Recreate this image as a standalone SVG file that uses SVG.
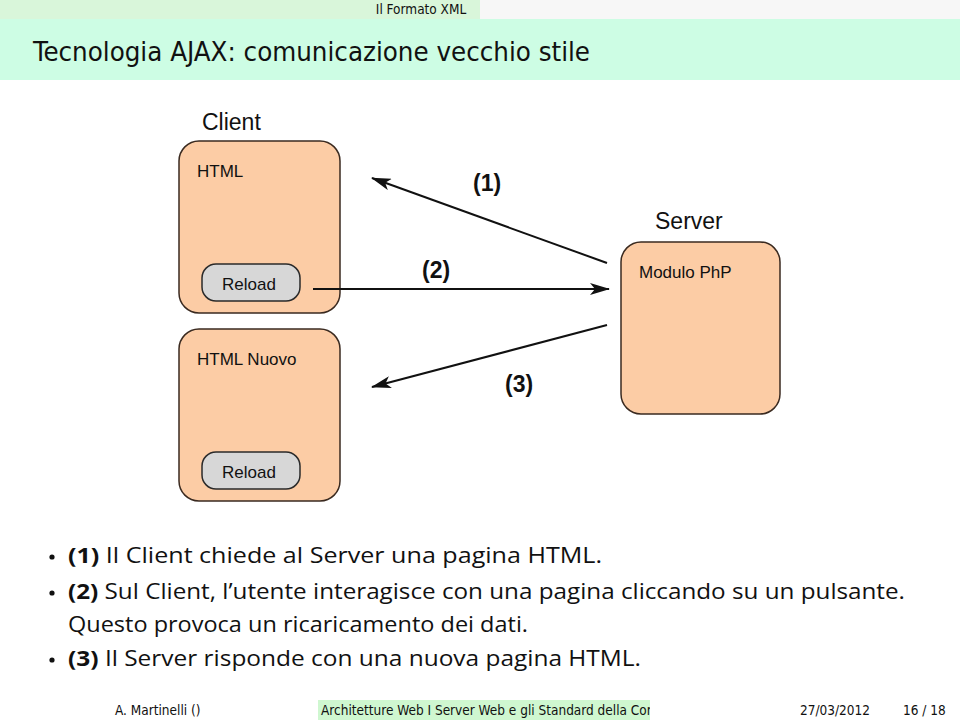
<svg xmlns="http://www.w3.org/2000/svg" width="960" height="720" viewBox="0 0 960 720">
<style>
.box{fill:#fccca5;stroke:#3a2a20;stroke-width:1.5}
.btn{fill:#d7d7d7;stroke:#2a2a2a;stroke-width:1.5}
.lbl{font-family:"Liberation Sans",Arial,sans-serif;fill:#111}
.num{font-family:"Liberation Sans",Arial,sans-serif;font-weight:bold;font-size:23px;fill:#111}
.body{font-family:"Open Sans","DejaVu Sans",sans-serif;font-size:21px;fill:#111}
.foot{font-family:"DejaVu Sans Condensed","DejaVu Sans",sans-serif;font-size:13.5px;fill:#111}
.conn{stroke:#111;stroke-width:2;fill:none;marker-end:url(#ah)}
</style>
<defs>
<marker id="ah" viewBox="0 0 20 12" refX="19" refY="6" markerWidth="20" markerHeight="12" markerUnits="userSpaceOnUse" orient="auto">
<path d="M0,0 L20,6 L0,12 L5,6 Z" fill="#111"/>
</marker>
</defs>
<rect width="960" height="720" fill="#fff"/>
<rect x="0" y="0" width="480" height="19" fill="#d9f6da"/>
<rect x="480" y="0" width="480" height="19" fill="#f7f7f7"/>
<text x="421" y="14" text-anchor="middle" class="foot">Il Formato XML</text>
<rect x="0" y="19" width="960" height="61" fill="#cdfde4"/>
<text x="33" y="61" font-family="DejaVu Sans Condensed, DejaVu Sans, sans-serif" font-size="27" fill="#111" textLength="557" lengthAdjust="spacingAndGlyphs">Tecnologia AJAX: comunicazione vecchio stile</text>

<g id="client-label"><text x="202" y="130" class="lbl" font-size="23">Client</text></g>
<g id="client-html">
<rect x="179" y="141" width="161" height="172" rx="20" class="box"/>
<text x="197" y="177" class="lbl" font-size="17">HTML</text>
</g>
<g id="reload1">
<rect x="202" y="264" width="98" height="37" rx="14" class="btn"/>
<text x="249" y="290" text-anchor="middle" class="lbl" font-size="17">Reload</text>
</g>
<g id="client-html-nuovo">
<rect x="179" y="329" width="161" height="172" rx="20" class="box"/>
<text x="197" y="365" class="lbl" font-size="17">HTML Nuovo</text>
</g>
<g id="reload2">
<rect x="202" y="452" width="98" height="37" rx="14" class="btn"/>
<text x="249" y="478" text-anchor="middle" class="lbl" font-size="17">Reload</text>
</g>
<g id="server-label"><text x="655" y="229" class="lbl" font-size="23">Server</text></g>
<g id="server">
<rect x="621" y="242" width="159" height="172" rx="20" class="box"/>
<text x="639" y="278" class="lbl" font-size="17">Modulo PhP</text>
</g>

<g id="connectors">
<line x1="607" y1="263" x2="372" y2="178" class="conn"/>
<line x1="313" y1="289" x2="609" y2="289" class="conn"/>
<line x1="607" y1="325" x2="372" y2="387" class="conn"/>
<text x="473" y="191" class="num">(1)</text>
<text x="422" y="278" class="num">(2)</text>
<text x="505" y="392" class="num">(3)</text>
</g>

<g id="bullets">
<circle cx="52" cy="557" r="2.6" fill="#111"/>
<text x="68" y="563" class="body" textLength="534" lengthAdjust="spacingAndGlyphs"><tspan font-weight="bold">(1)</tspan> Il Client chiede al Server una pagina HTML.</text>
<circle cx="52" cy="593" r="2.6" fill="#111"/>
<text x="68" y="599" class="body" textLength="837" lengthAdjust="spacingAndGlyphs"><tspan font-weight="bold">(2)</tspan> Sul Client, l’utente interagisce con una pagina cliccando su un pulsante.</text>
<text x="68" y="632" class="body" textLength="460" lengthAdjust="spacingAndGlyphs">Questo provoca un ricaricamento dei dati.</text>
<circle cx="52" cy="660" r="2.6" fill="#111"/>
<text x="68" y="666" class="body" textLength="573" lengthAdjust="spacingAndGlyphs"><tspan font-weight="bold">(3)</tspan> Il Server risponde con una nuova pagina HTML.</text>
</g>

<rect x="318" y="700" width="332" height="20" fill="#cff7d0"/>
<text x="115" y="715" class="foot">A. Martinelli  ()</text>
<svg x="318" y="700" width="332" height="20" overflow="hidden">
<text x="3" y="15" class="foot">Architetture Web  I Server Web e gli Standard della Comunicazione</text>
</svg>
<text x="800" y="715" class="foot">27/03/2012</text>
<text x="903" y="715" class="foot">16 / 18</text>
</svg>
